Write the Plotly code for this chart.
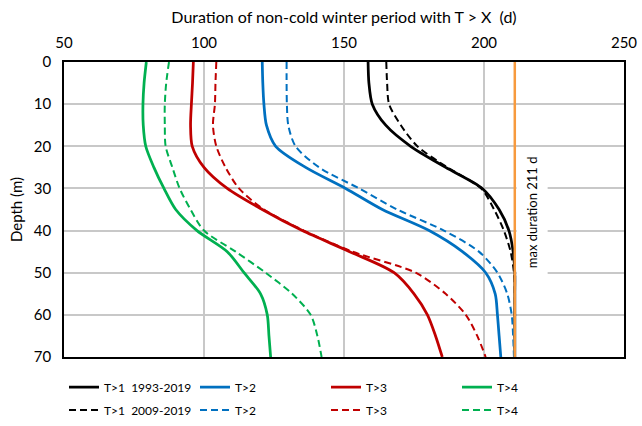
import plotly.graph_objects as go

depth = [0, 5, 10, 15, 20, 25, 30, 35, 40, 45, 50, 55, 60, 65, 70]

t1_9319 = [158.6, 158.9, 160.1, 164.9, 173.8, 186.3, 199.4, 205.4, 208.9, 210.4, 211.0, 211.0, 211.0, 211.0, 211.0]
t2_9319 = [120.8, 121.0, 121.4, 122.3, 125.6, 136.3, 150.6, 163.7, 180.4, 192.3, 200.6, 204.0, 204.8, 205.4, 206.0]
t3_9319 = [96.2, 95.9, 95.5, 95.2, 95.8, 100.0, 108.3, 120.8, 135.1, 152.0, 167.9, 175.0, 179.8, 182.7, 185.1]
t4_9319 = [79.4, 78.6, 78.2, 78.3, 79.2, 82.1, 85.7, 89.9, 97.5, 108.3, 114.3, 120.2, 122.6, 123.2, 123.8]

t1_0919 = [165.1, 165.4, 166.1, 170.3, 176.2, 186.9, 199.0, 203.6, 207.1, 209.5, 210.7, 211.0, 211.0, 211.0, 211.0]
t2_0919 = [129.5, 129.5, 129.6, 130.1, 132.7, 141.1, 155.4, 169.0, 185.7, 198.2, 204.8, 208.3, 209.9, 210.4, 210.7]
t3_0919 = [104.4, 104.1, 103.9, 103.2, 104.4, 107.7, 112.5, 121.4, 135.7, 153.0, 175.6, 186.3, 193.5, 197.6, 200.6]
t4_0919 = [87.5, 86.5, 86.0, 86.0, 86.3, 88.7, 91.3, 95.2, 100.0, 111.3, 122.0, 131.5, 138.1, 140.5, 142.0]

max_duration = 211
max_depth = [0, 70]

solid_names = ["T>1\u00a0\u00a01993-2019", "T>2", "T>3", "T>4"]
dash_names = ["T>1\u00a0\u00a02009-2019", "T>2", "T>3", "T>4"]
colors = ["#000000", "#0070C0", "#C00000", "#00B050"]

FONT = "Lato"
fig = go.Figure()

for name, xs, c in zip(solid_names, [t1_9319, t2_9319, t3_9319, t4_9319], colors):
    fig.add_trace(go.Scatter(x=xs, y=depth, mode="lines", name=name,
                             line=dict(color=c, width=2.75, shape="spline", smoothing=0.8),
                             legend="legend"))
for name, xs, c in zip(dash_names, [t1_0919, t2_0919, t3_0919, t4_0919], colors):
    fig.add_trace(go.Scatter(x=xs, y=depth, mode="lines", name=name,
                             line=dict(color=c, width=2, dash="7px,4px", shape="spline", smoothing=0.8),
                             legend="legend2"))

fig.add_trace(go.Scatter(x=[max_duration, max_duration], y=max_depth, mode="lines",
                         line=dict(color="#F79A3E", width=2.5), showlegend=False))

fig.add_annotation(x=217.2, y=35.6, text="max duration 211 d", textangle=-90,
                   showarrow=False, bgcolor="white", borderpad=7,
                   font=dict(family=FONT, size=13, color="#000000"))

legend_common = dict(orientation="h", x=0.0, xanchor="left", yanchor="middle",
                     entrywidth=86, entrywidthmode="pixels", traceorder="normal",
                     font=dict(family=FONT, size=12, color="#000000"),
                     bgcolor="rgba(0,0,0,0)")

fig.update_layout(
    width=642, height=426,
    margin=dict(l=64, r=18, t=62, b=69, autoexpand=False),
    paper_bgcolor="white", plot_bgcolor="white",
    font=dict(family=FONT, size=14, color="#000000"),
    legend=dict(y=-0.102, **legend_common),
    legend2=dict(y=-0.18, **legend_common),
    xaxis=dict(side="top", range=[50, 250], dtick=50, tick0=50,
               showgrid=True, gridcolor="#C8C8C8", gridwidth=1.5,
               showline=True, linecolor="#000000", linewidth=1.5, mirror=True,
               zeroline=False, ticks="", ticklabelstandoff=6,
               tickfont=dict(family=FONT, size=15),
               title=dict(text="Duration of non-cold winter period with T > X\u00a0\u00a0(d)",
                          font=dict(family=FONT, size=16), standoff=6)),
    yaxis=dict(range=[70, 0], dtick=10, tick0=0,
               showgrid=True, gridcolor="#C8C8C8", gridwidth=1.5,
               showline=True, linecolor="#000000", linewidth=1.5, mirror=True,
               zeroline=False, ticks="", ticklabelstandoff=8,
               tickfont=dict(family=FONT, size=15),
               title=dict(text="Depth (m)", font=dict(family=FONT, size=15), standoff=8)),
)

fig.write_html("out.html")
